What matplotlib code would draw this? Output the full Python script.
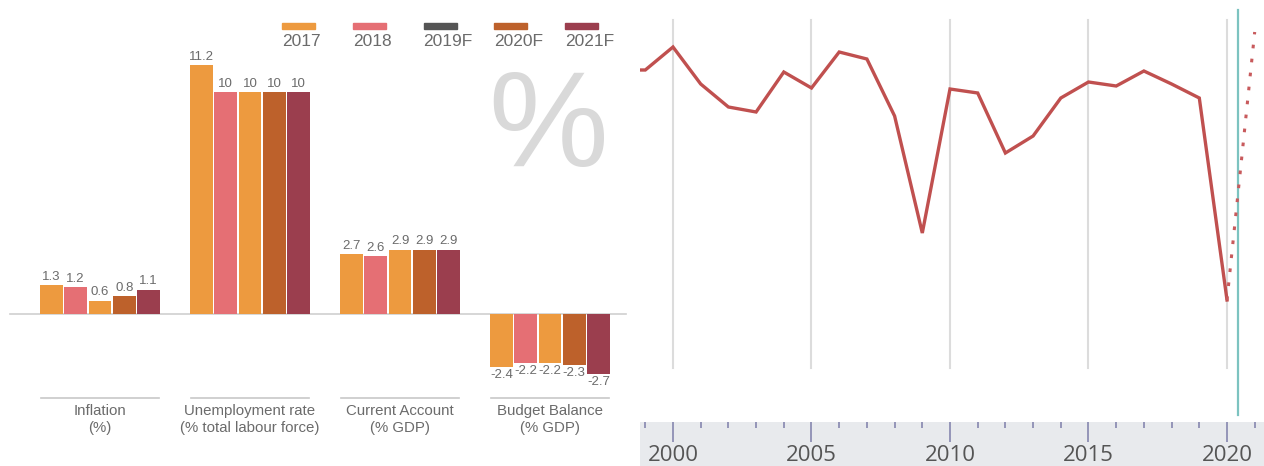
import matplotlib.pyplot as plt
import matplotlib.transforms as mtransforms
from matplotlib.patches import Rectangle
from matplotlib.ticker import MultipleLocator
import numpy as np

plt.rcParams['font.family'] = ['Liberation Sans', 'DejaVu Sans']

# forecast table
indicators = ['Inflation\n(%)', 'Unemployment rate\n(% total labour force)',
              'Current Account\n(% GDP)', 'Budget Balance\n(% GDP)']
years = ['2017', '2018', '2019F', '2020F', '2021F']
values = {
    '2017': [1.3, 11.2, 2.7, -2.4],
    '2018': [1.2, 10, 2.6, -2.2],
    '2019F': [0.6, 10, 2.9, -2.2],
    '2020F': [0.8, 10, 2.9, -2.3],
    '2021F': [1.1, 10, 2.9, -2.7],
}
bar_colors = ['#ED9A3F', '#E56F74', '#ED9A3F', '#BD612B', '#9B3E4E']
legend_colors = ['#ED9A3F', '#E56F74', '#555555', '#BD612B', '#9B3E4E']

# annual growth series
growth_years = list(range(1998, 2021))
growth = [2.25, 2.25, 3.4, 1.55, 0.4, 0.15, 2.15, 1.35, 3.15, 2.8, -0.05, -5.9,
          1.3, 1.1, -1.9, -1.05, 0.85, 1.65, 1.45, 2.2, 1.55, 0.85, -9.25]
proj_years = [2020, 2021]
proj = [-9.25, 4.15]
marker_year = 2020.4

W, H = 1264, 466
fig = plt.figure(figsize=(W / 100, H / 100), dpi=100)

# ---- left: grouped bars ----
ax = fig.add_axes([0, 0, 630 / W, 1])
px_x = 150.0   # pixels per group
px_y = 22.2    # pixels per unit
ax.set_xlim(-100 / px_x, 530 / px_x)
ax.set_ylim(-(H - 314) / px_y, 314 / px_y)
ax.axis('off')

pitch = 24.3 / px_x
width = 22.5 / px_x
grey_txt = '#6b6b6b'
x = np.arange(len(indicators))
for i, yr in enumerate(years):
    xs = x + (i - 2) * pitch
    ax.bar(xs, values[yr], width=width, color=bar_colors[i], zorder=2)
    for xi, v in zip(xs, values[yr]):
        lab = '%g' % v
        if v >= 0:
            ax.text(xi, v + 0.1, lab, ha='center', va='bottom', fontsize=9.5, color=grey_txt)
        else:
            ax.text(xi, v - 0.1, lab, ha='center', va='top', fontsize=9.5, color=grey_txt)

ax.plot([-90 / px_x, 526 / px_x], [0, 0], color='#cfcfcf', lw=1.2, zorder=1)

for xi, name in zip(x, indicators):
    ax.plot([xi - 0.393, xi + 0.393], [-84 / px_y] * 2, color='#c8c8c8', lw=1.2)
    ax.text(xi, -90 / px_y, name, ha='center', va='top', fontsize=10.8,
            color=grey_txt, linespacing=1.25)

ax.text(548 / 630, 1 - 166 / H, '%', transform=ax.transAxes, ha='center', va='baseline',
        fontsize=97, color='#d9d9d9')

# legend: swatch over label
for i, yr in enumerate(years):
    lx = (282 + i * 70.8) / 630
    ax.add_patch(Rectangle((lx, 1 - 29 / H), 33 / 630, 6 / H, transform=ax.transAxes,
                           color=legend_colors[i], clip_on=False))
    ax.text(lx, 1 - 34 / H, yr, transform=ax.transAxes, ha='left', va='top',
            fontsize=12.5, color=grey_txt)

# ---- right: growth line ----
x0_year = 2000 - (673 - 640) / 27.7
x1_year = 2000 + (1264 - 673) / 27.7
lax = fig.add_axes([640 / W, 46 / H, 624 / W, 420 / H])
lax.set_xlim(x0_year, x1_year)
lax.set_ylim(-(420 - 115) / 20, 115 / 20)
lax.axis('off')
for g in range(2000, 2021, 5):
    lax.axvline(g, ymin=52 / 420, ymax=400 / 420, color='#dcdcdc', lw=1.5, zorder=1)
lax.axvline(marker_year, ymin=5 / 420, ymax=410 / 420, color='#7cc3c0', lw=1.6, zorder=1)
lax.plot(growth_years, growth, color='#C0504F', lw=2.4, solid_joinstyle='miter', zorder=3)
lax.plot(proj_years, proj, color='#C85A5C', lw=2.2, linestyle=(0, (1.2, 3.4)), zorder=3)

# time axis band
bax = fig.add_axes([640 / W, 0, 624 / W, 44 / H])
bax.set_xlim(x0_year, x1_year)
bax.set_facecolor('#E8EAED')
for s in bax.spines.values():
    s.set_visible(False)
bax.set_yticks([])
bax.xaxis.set_major_locator(MultipleLocator(5))
bax.xaxis.set_minor_locator(MultipleLocator(1))
bax.tick_params(axis='x', which='both', top=True, bottom=False, direction='in',
                labelbottom=False, labeltop=False, color='#7e7eaa', width=1.1)
bax.tick_params(axis='x', which='major', length=14.5)
bax.tick_params(axis='x', which='minor', length=4.5)
tr = mtransforms.blended_transform_factory(bax.transData, bax.transAxes)
for g in range(2000, 2021, 5):
    bax.text(g, 0.01, str(g), transform=tr, ha='center', va='bottom',
             fontsize=16, color='#555555', family='Open Sans')

fig.savefig('out.png', dpi=100)
